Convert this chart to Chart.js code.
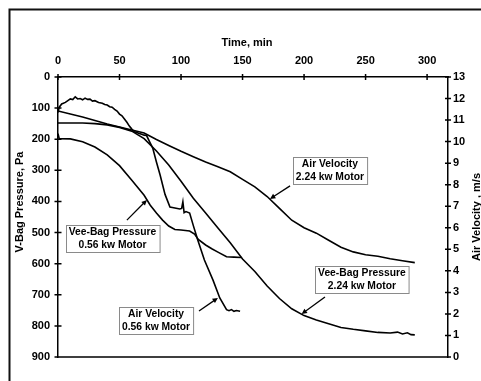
<!DOCTYPE html>
<html>
<head>
<meta charset="utf-8">
<script src="https://cdn.jsdelivr.net/npm/chart.js@4"></script>
<style>
  html, body { margin: 0; padding: 0; background: #fff; }
  canvas { display: block; }
</style>
</head>
<body>
<canvas id="chart" width="481" height="381"></canvas>
<script>
// time axis ticks / range
const timeMax = 317;
const timeStep = 50;
const paMax = 900;
const velMax = 13;

// Air velocity, 0.56 kw motor (m/s)
const avLowTime = [0, 1, 3, 6, 8, 10, 12, 14, 16, 18, 20, 22, 24, 26, 28, 30, 33, 36, 38, 40,
  42, 44, 46, 48, 50, 52, 54, 56, 58, 60, 62, 64, 66, 68, 70, 72, 74, 77, 80, 83,
  87, 91, 95, 99, 100.5, 101.5, 102.5, 104, 107, 110, 113.6, 119, 126, 131.5, 137, 139, 141, 143, 145, 148];
const avLowVel = [11.35, 11.6, 11.75, 11.82, 11.9, 11.98, 11.95, 12.08, 11.98, 12.0, 11.94, 12.02, 11.96, 11.97, 11.88, 11.9, 11.82, 11.78, 11.72, 11.7,
  11.62, 11.6, 11.5, 11.42, 11.28, 11.2, 11.05, 10.9, 10.72, 10.58, 10.46, 10.42, 10.38, 10.34, 10.3, 10.28, 10.05, 9.7, 9.05, 8.45,
  7.55, 6.96, 6.92, 6.87, 6.9, 7.2, 6.7, 6.75, 6.68, 6.1, 5.43, 4.5, 3.57, 2.74, 2.2, 2.15, 2.2, 2.12, 2.16, 2.12];

// Vee-bag pressure, 0.56 kw motor (Pa)
const vbLowTime = [0, 1, 10, 20, 30, 40, 50, 60, 70, 75, 80, 85, 90, 95, 100, 107, 111, 114, 120, 125, 130, 137, 143, 149];
const vbLowPa = [182, 198, 199, 208, 225, 250, 285, 332, 380, 412, 437, 460, 479, 490, 492, 495, 505, 522, 540, 552, 563, 578, 579, 580];

// Vee-bag pressure, 2.24 kw motor (Pa)
const vbHighTime = [0, 10, 20, 30, 40, 50, 60, 70, 80, 90, 100, 110, 120, 130, 140, 150, 160, 170, 180, 190,
  200, 210, 220, 230, 240, 250, 260, 270, 276, 280, 284, 287, 290];
const vbHighPa = [148, 148, 148, 150, 154, 162, 174, 198, 238, 283, 335, 390, 437, 485, 533, 585, 625, 672, 712, 745,
  767, 781, 793, 805, 811, 816, 821, 823, 820, 826, 822, 828, 829];

// Air velocity, 2.24 kw motor (m/s)
const avHighTime = [0, 10, 20, 30, 40, 50, 60, 70, 80, 90, 100, 110, 120, 130, 140, 150, 160, 170, 180, 190,
  200, 210, 220, 230, 240, 250, 260, 270, 280, 290];
const avHighVel = [11.42, 11.28, 11.14, 10.98, 10.82, 10.68, 10.54, 10.4, 10.1, 9.82, 9.55, 9.3, 9.05, 8.83, 8.6, 8.25, 7.9, 7.45, 6.9, 6.35,
  6.0, 5.75, 5.42, 5.1, 4.88, 4.75, 4.68, 4.56, 4.47, 4.38];

// callout labels, placed in data units (time, Pa)
const notes = [
  { lines: ['Air Velocity', '2.24 kw Motor'], t: 221, pa: 302, from: [188.6, 350], to: [172.3, 392] },
  { lines: ['Vee-Bag Pressure', '0.56 kw Motor'], t: 44.3, pa: 519, from: [56, 460], to: [72.3, 395] },
  { lines: ['Air Velocity', '0.56 kw Motor'], t: 79.7, pa: 784, from: [114.6, 752], to: [130, 710] },
  { lines: ['Vee-Bag Pressure', '2.24 kw Motor'], t: 247, pa: 652, from: [217, 707], to: [198, 762] }
];

const FONT = 'Arial, "Liberation Sans", sans-serif';
const tickFont = { family: FONT, size: 11, weight: 'bold' };

function pts(xs, ys) {
  return xs.map((x, i) => ({ x: x, y: ys[i] }));
}

function series(xs, ys, axis) {
  return {
    data: pts(xs, ys),
    yAxisID: axis,
    showLine: true,
    borderColor: '#000',
    borderWidth: 1.6,
    pointRadius: 0,
    tension: 0,
    fill: false
  };
}

const extras = {
  id: 'extras',
  afterDraw(chart) {
    const ctx = chart.ctx;
    const a = chart.chartArea;
    const sx = chart.scales.x, sy = chart.scales.y, sy2 = chart.scales.y2;
    ctx.save();
    ctx.strokeStyle = '#000';
    ctx.lineWidth = 1.5;

    // cross tick marks
    ctx.beginPath();
    sx.ticks.forEach(t => {
      const p = sx.getPixelForValue(t.value);
      ctx.moveTo(p, a.top - 3); ctx.lineTo(p, a.top + 3);
    });
    sy.ticks.forEach(t => {
      const p = sy.getPixelForValue(t.value);
      ctx.moveTo(a.left - 3.5, p); ctx.lineTo(a.left + 3.5, p);
    });
    sy2.ticks.forEach(t => {
      const p = sy2.getPixelForValue(t.value);
      ctx.moveTo(a.right - 3, p); ctx.lineTo(a.right + 3, p);
    });
    // bottom edge of plot
    ctx.moveTo(a.left, a.bottom); ctx.lineTo(a.right, a.bottom);
    ctx.stroke();

    // outer frame (left + top)
    ctx.strokeStyle = '#111';
    ctx.lineWidth = 2;
    ctx.beginPath();
    ctx.moveTo(9.5, 381); ctx.lineTo(9.5, 9.5); ctx.lineTo(481, 9.5);
    ctx.stroke();

    // axis titles
    ctx.fillStyle = '#000';
    ctx.font = 'bold 11px ' + FONT;
    ctx.textAlign = 'center';
    ctx.textBaseline = 'middle';
    ctx.fillText('Time, min', (a.left + a.right) / 2 - 6, 42.5);
    ctx.save();
    ctx.translate(20, 202);
    ctx.rotate(-Math.PI / 2);
    ctx.fillText('V-Bag Pressure, Pa', 0, 0);
    ctx.restore();
    ctx.save();
    ctx.translate(476.5, 217);
    ctx.rotate(-Math.PI / 2);
    ctx.fillText('Air Velocity , m/s', 0, 0);
    ctx.restore();

    // callouts
    ctx.font = 'bold 10.3px ' + FONT;
    notes.forEach(n => {
      const cx = sx.getPixelForValue(n.t);
      const cy = sy.getPixelForValue(n.pa);
      const w = Math.max(...n.lines.map(l => ctx.measureText(l).width)) + 6;
      const h = 27;
      const bx = Math.round(cx - w / 2) + 0.5, by = Math.round(cy - h / 2) + 0.5;
      ctx.fillStyle = '#fff';
      ctx.fillRect(bx, by, w, h);
      ctx.strokeStyle = '#8a8a8a';
      ctx.lineWidth = 1;
      ctx.strokeRect(bx, by, w, h);
      ctx.fillStyle = '#000';
      ctx.fillText(n.lines[0], cx, cy - 6.5);
      ctx.fillText(n.lines[1], cx, cy + 6.5);

      // arrow
      const x1 = sx.getPixelForValue(n.from[0]), y1 = sy.getPixelForValue(n.from[1]);
      const x2 = sx.getPixelForValue(n.to[0]), y2 = sy.getPixelForValue(n.to[1]);
      const ang = Math.atan2(y2 - y1, x2 - x1);
      ctx.strokeStyle = '#000';
      ctx.lineWidth = 1.3;
      ctx.beginPath();
      ctx.moveTo(x1, y1); ctx.lineTo(x2 - 3 * Math.cos(ang), y2 - 3 * Math.sin(ang));
      ctx.stroke();
      ctx.beginPath();
      ctx.moveTo(x2, y2);
      ctx.lineTo(x2 - 6 * Math.cos(ang - 0.45), y2 - 6 * Math.sin(ang - 0.45));
      ctx.lineTo(x2 - 6 * Math.cos(ang + 0.45), y2 - 6 * Math.sin(ang + 0.45));
      ctx.closePath();
      ctx.fill();
    });
    ctx.restore();
  }
};

new Chart(document.getElementById('chart'), {
  type: 'scatter',
  data: {
    datasets: [
      series(avLowTime, avLowVel, 'y2'),
      series(vbLowTime, vbLowPa, 'y'),
      series(vbHighTime, vbHighPa, 'y'),
      series(avHighTime, avHighVel, 'y2')
    ]
  },
  options: {
    responsive: false,
    animation: false,
    layout: { padding: { top: 0, left: 0, right: 0, bottom: 24 } },
    plugins: { legend: { display: false }, tooltip: { enabled: false } },
    scales: {
      x: {
        type: 'linear', position: 'top', min: 0, max: timeMax,
        grid: { display: false, drawTicks: false },
        border: { display: true, color: '#000', width: 1.5 },
        ticks: { stepSize: timeStep, includeBounds: false, padding: 9, color: '#000', font: tickFont },
        afterFit(s) { s.height = 77; }
      },
      y: {
        type: 'linear', position: 'left', min: 0, max: paMax, reverse: true,
        grid: { display: false, drawTicks: false },
        border: { display: true, color: '#000', width: 1.5 },
        ticks: { stepSize: 100, padding: 8, color: '#000', font: tickFont },
        afterFit(s) { s.width = 58; }
      },
      y2: {
        type: 'linear', position: 'right', min: 0, max: velMax,
        grid: { display: false, drawTicks: false },
        border: { display: true, color: '#000', width: 1.5 },
        ticks: { stepSize: 1, padding: 5, color: '#000', font: tickFont },
        afterFit(s) { s.width = 33; }
      }
    }
  },
  plugins: [extras]
});
</script>
</body>
</html>
